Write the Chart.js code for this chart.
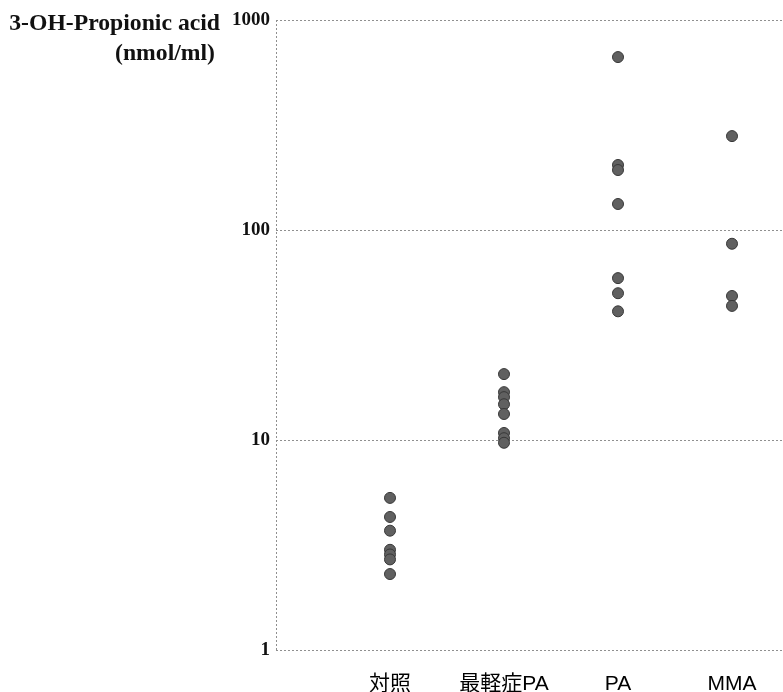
<!DOCTYPE html>
<html>
<head>
<meta charset="utf-8">
<script src="https://cdn.jsdelivr.net/npm/chart.js@4/dist/chart.umd.min.js"></script>
<style>
  html, body { margin: 0; padding: 0; background: #fff; }
  #wrap { width: 783px; height: 692px; position: relative; }
</style>
</head>
<body>
<div id="wrap"><canvas id="acid-chart"></canvas></div>
<script>
const categories = ['対照', '最軽症PA', 'PA', 'MMA'];
const controlValues = [5.3, 4.3, 3.7, 3.0, 2.85, 2.7, 2.3];
const mildPAValues = [20.6, 16.9, 16.0, 14.8, 13.3, 10.8, 10.2, 9.7];
const paValues = [666, 204, 193, 133, 59, 50, 41];
const mmaValues = [280, 86, 48.5, 43.5];
const yTicks = [1, 10, 100, 1000];
const yTitle = ['3-OH-Propionic acid', '(nmol/ml)'];

const groups = [controlValues, mildPAValues, paValues, mmaValues];
const points = [];
groups.forEach((vals, i) => vals.forEach(v => points.push({ x: i + 1, y: v })));

const GRID = '#8f8f8f';

// y-axis caption, right-aligned to the left of the tick labels
const yTitlePlugin = {
    id: 'yTitle',
    afterDraw(chart) {
        const c = chart.ctx;
        c.save();
        c.fillStyle = '#111';
        c.font = 'bold 23.7px "Liberation Serif", "Times New Roman", serif';
        c.textAlign = 'right';
        c.textBaseline = 'alphabetic';
        c.fillText(yTitle[0], 220, 30);
        c.fillText(yTitle[1], 215, 60);
        c.restore();
    }
};

new Chart(document.getElementById('acid-chart'), {
    type: 'scatter',
    data: {
        datasets: [{
            data: points,
            backgroundColor: '#606060',
            borderColor: '#383838',
            borderWidth: 1,
            pointRadius: 5.5,
            pointHoverRadius: 5.5
        }]
    },
    options: {
        responsive: true,
        maintainAspectRatio: false,
        animation: false,
        layout: { autoPadding: false, padding: { top: 20, right: 0, bottom: 0, left: 0 } },
        plugins: { legend: { display: false }, tooltip: { enabled: false } },
        scales: {
            x: {
                type: 'linear',
                min: 0,
                max: 507 / 114,
                afterBuildTicks: s => { s.ticks = [0, 1, 2, 3, 4].map(v => ({ value: v })); },
                // plot runs right up to the canvas edge
                afterFit: s => { s.height = 42; s.paddingLeft = 0; s.paddingRight = 0; },
                border: { display: false, dash: [2, 2] },
                grid: {
                    drawTicks: false,
                    color: ctx => (ctx.tick && ctx.tick.value === 0 ? GRID : 'rgba(0,0,0,0)'),
                    borderDash: [2, 2]
                },
                ticks: {
                    padding: 22,
                    maxRotation: 0,
                    autoSkip: false,
                    color: '#000',
                    font: { family: '"Liberation Sans", "Noto Sans CJK JP", sans-serif', size: 21 },
                    callback: v => (v >= 1 && v <= 4 ? categories[v - 1] : '')
                }
            },
            y: {
                type: 'logarithmic',
                min: 1,
                max: 1000,
                afterBuildTicks: s => { s.ticks = yTicks.map(v => ({ value: v })); },
                afterFit: s => { s.width = 276; },
                border: { display: false, dash: [2, 2] },
                grid: { drawTicks: false, color: GRID, borderDash: [2, 2] },
                ticks: {
                    padding: 6,
                    color: '#111',
                    font: { family: '"Liberation Serif", "Times New Roman", serif', size: 19, weight: 'bold' },
                    callback: v => String(v)
                }
            }
        }
    },
    plugins: [yTitlePlugin]
});
</script>
</body>
</html>
